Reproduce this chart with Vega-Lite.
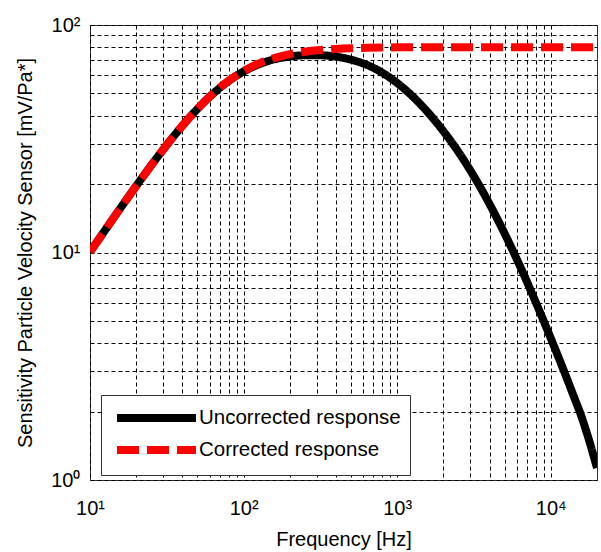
{
  "$schema": "https://vega.github.io/schema/vega-lite/v6.json",
  "width": 507,
  "height": 455,
  "autosize": {"type": "none"},
  "padding": {"left": 90, "top": 25, "right": 4, "bottom": 72},
  "background": "white",
  "config": {
    "font": "Liberation Sans",
    "view": {"stroke": "#333333", "strokeWidth": 1}
  },
  "data": {
    "values": [
      {"f": 10, "s": 10.05, "series": "Uncorrected response"},
      {"f": 12.6, "s": 12.6, "series": "Uncorrected response"},
      {"f": 15.8, "s": 15.69, "series": "Uncorrected response"},
      {"f": 20, "s": 19.63, "series": "Uncorrected response"},
      {"f": 25, "s": 24.13, "series": "Uncorrected response"},
      {"f": 31.6, "s": 29.7, "series": "Uncorrected response"},
      {"f": 40, "s": 36.11, "series": "Uncorrected response"},
      {"f": 50, "s": 42.73, "series": "Uncorrected response"},
      {"f": 63, "s": 49.78, "series": "Uncorrected response"},
      {"f": 79, "s": 56.39, "series": "Uncorrected response"},
      {"f": 100, "s": 62.45, "series": "Uncorrected response"},
      {"f": 126, "s": 67.23, "series": "Uncorrected response"},
      {"f": 158, "s": 70.65, "series": "Uncorrected response"},
      {"f": 200, "s": 72.7, "series": "Uncorrected response"},
      {"f": 251, "s": 73.6, "series": "Uncorrected response"},
      {"f": 316, "s": 73.6, "series": "Uncorrected response"},
      {"f": 398, "s": 72.6, "series": "Uncorrected response"},
      {"f": 501, "s": 70.4, "series": "Uncorrected response"},
      {"f": 631, "s": 66.9, "series": "Uncorrected response"},
      {"f": 794, "s": 61.9, "series": "Uncorrected response"},
      {"f": 1000, "s": 55.6, "series": "Uncorrected response"},
      {"f": 1259, "s": 48.6, "series": "Uncorrected response"},
      {"f": 1585, "s": 41.3, "series": "Uncorrected response"},
      {"f": 1995, "s": 34.2, "series": "Uncorrected response"},
      {"f": 2512, "s": 27.6, "series": "Uncorrected response"},
      {"f": 3162, "s": 21.6, "series": "Uncorrected response"},
      {"f": 3981, "s": 16.4, "series": "Uncorrected response"},
      {"f": 5012, "s": 12.1, "series": "Uncorrected response"},
      {"f": 6310, "s": 8.7, "series": "Uncorrected response"},
      {"f": 7943, "s": 6.1, "series": "Uncorrected response"},
      {"f": 10000, "s": 4.2, "series": "Uncorrected response"},
      {"f": 12589, "s": 2.85, "series": "Uncorrected response"},
      {"f": 14125, "s": 2.33, "series": "Uncorrected response"},
      {"f": 15849, "s": 1.9, "series": "Uncorrected response"},
      {"f": 17783, "s": 1.49, "series": "Uncorrected response"},
      {"f": 20000, "s": 1.13, "series": "Uncorrected response"},
      {"f": 10, "s": 10.05, "series": "Corrected response"},
      {"f": 12.6, "s": 12.6, "series": "Corrected response"},
      {"f": 15.8, "s": 15.69, "series": "Corrected response"},
      {"f": 20, "s": 19.63, "series": "Corrected response"},
      {"f": 25, "s": 24.14, "series": "Corrected response"},
      {"f": 31.6, "s": 29.71, "series": "Corrected response"},
      {"f": 40, "s": 36.14, "series": "Corrected response"},
      {"f": 50, "s": 42.78, "series": "Corrected response"},
      {"f": 63, "s": 49.88, "series": "Corrected response"},
      {"f": 79, "s": 56.57, "series": "Corrected response"},
      {"f": 100, "s": 62.77, "series": "Corrected response"},
      {"f": 126, "s": 67.78, "series": "Corrected response"},
      {"f": 158, "s": 71.55, "series": "Corrected response"},
      {"f": 200, "s": 74.4, "series": "Corrected response"},
      {"f": 251, "s": 76.31, "series": "Corrected response"},
      {"f": 316, "s": 77.61, "series": "Corrected response"},
      {"f": 398, "s": 78.47, "series": "Corrected response"},
      {"f": 501, "s": 79.03, "series": "Corrected response"},
      {"f": 631, "s": 79.38, "series": "Corrected response"},
      {"f": 794, "s": 79.61, "series": "Corrected response"},
      {"f": 1000, "s": 79.75, "series": "Corrected response"},
      {"f": 2000, "s": 79.85, "series": "Corrected response"},
      {"f": 5000, "s": 79.9, "series": "Corrected response"},
      {"f": 20000, "s": 79.9, "series": "Corrected response"}
    ]
  },
  "encoding": {
    "x": {
      "field": "f",
      "type": "quantitative",
      "scale": {"type": "log", "domain": [10, 20000], "nice": false},
      "axis": {
        "values": [10, 20, 30, 40, 50, 60, 70, 80, 90, 100, 200, 300, 400, 500, 600, 700, 800, 900, 1000, 2000, 3000, 4000, 5000, 6000, 7000, 8000, 9000, 10000],
        "labelExpr": "datum.value == 10 ? '10¹' : datum.value == 100 ? '10²' : datum.value == 1000 ? '10³' : datum.value == 10000 ? '10⁴' : ''",
        "labelFontSize": 20,
        "labelColor": "#000000",
        "labelPadding": 18,
        "labelFlush": false,
        "labelOverlap": false,
        "ticks": false,
        "tickSize": 0,
        "domain": false,
        "grid": true,
        "gridColor": "#000000",
        "gridDash": [4, 3],
        "gridWidth": 1,
        "title": "Frequency [Hz]",
        "titleFontSize": 20,
        "titleFontWeight": "normal",
        "titleColor": "#000000",
        "titlePadding": 11
      }
    },
    "y": {
      "field": "s",
      "type": "quantitative",
      "scale": {"type": "log", "domain": [1, 100], "nice": false},
      "axis": {
        "values": [1, 2, 3, 4, 5, 6, 7, 8, 9, 10, 20, 30, 40, 50, 60, 70, 80, 90, 100],
        "labelExpr": "datum.value == 1 ? '10⁰' : datum.value == 10 ? '10¹' : datum.value == 100 ? '10²' : ''",
        "labelFontSize": 20,
        "labelColor": "#000000",
        "labelPadding": 10,
        "labelFlush": false,
        "labelOverlap": false,
        "ticks": false,
        "tickSize": 0,
        "domain": false,
        "grid": true,
        "gridColor": "#000000",
        "gridDash": [4, 3],
        "gridWidth": 1,
        "title": "Sensitivity Particle Velocity Sensor [mV/Pa*]",
        "titleFontSize": 20,
        "titleFontWeight": "normal",
        "titleColor": "#000000",
        "titlePadding": 15
      }
    },
    "color": {
      "field": "series",
      "type": "nominal",
      "scale": {"domain": ["Uncorrected response", "Corrected response"], "range": ["#000000", "#ff0000"]},
      "legend": {
        "title": null,
        "orient": "none",
        "legendX": 11,
        "legendY": 370,
        "symbolType": "M-0.7,0H7.2",
        "symbolSize": 400,
        "symbolStrokeWidth": 8,
        "labelFontSize": 20.5,
        "labelColor": "#000000",
        "labelOffset": 61,
        "labelLimit": 400,
        "padding": 9,
        "rowPadding": 0,
        "fillColor": "#ffffff",
        "strokeColor": "#333333"
      }
    },
    "strokeDash": {
      "field": "series",
      "type": "nominal",
      "scale": {"domain": ["Uncorrected response", "Corrected response"], "range": [[1, 0], [22, 8]]},
      "legend": {
        "title": null,
        "orient": "none",
        "legendX": 11,
        "legendY": 370,
        "symbolType": "M-0.7,0H7.2",
        "symbolSize": 400,
        "symbolStrokeWidth": 8,
        "labelFontSize": 20.5,
        "labelColor": "#000000",
        "labelOffset": 61,
        "labelLimit": 400,
        "padding": 9,
        "rowPadding": 0,
        "fillColor": "#ffffff",
        "strokeColor": "#333333"
      }
    }
  },
  "layer": [
    {
      "transform": [{"filter": "datum.series == 'Uncorrected response'"}],
      "mark": {"type": "line", "strokeWidth": 8, "interpolate": "monotone", "clip": true}
    },
    {
      "transform": [{"filter": "datum.series == 'Corrected response'"}],
      "mark": {"type": "line", "strokeWidth": 8, "interpolate": "monotone", "clip": true}
    }
  ]
}
